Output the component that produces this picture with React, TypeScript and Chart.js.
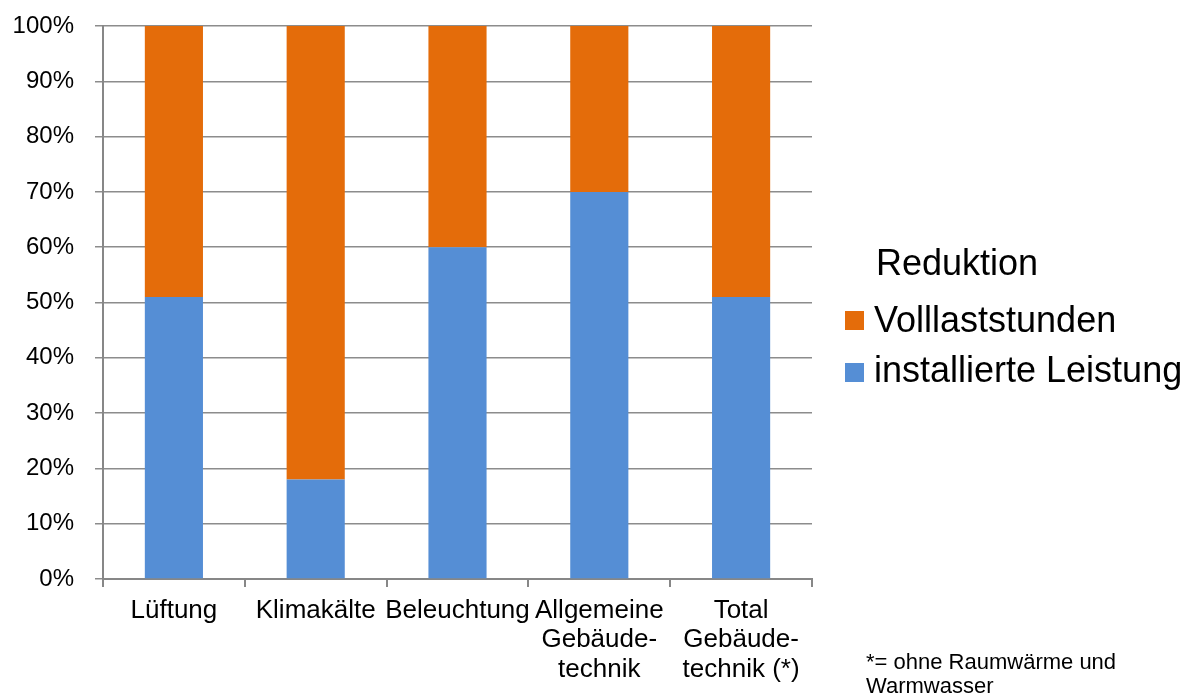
import { useEffect, useRef } from "react";
import { Chart, registerables } from "chart.js";

Chart.register(...registerables);

const categories: string[][] = [
  ["Lüftung"],
  ["Klimakälte"],
  ["Beleuchtung"],
  ["Allgemeine", "Gebäude-", "technik"],
  ["Total", "Gebäude-", "technik (*)"],
];
const installierteLeistung = [51, 18, 60, 70, 51];
const volllaststunden = [49, 82, 40, 30, 49];
const seriesNames = ["installierte Leistung", "Volllaststunden"];
const seriesColors = ["#558ED5", "#E46C0A"];
const legendTitle = "Reduktion";
const footnote = ["*= ohne Raumwärme und", "Warmwasser"];

const FONT = "'Liberation Sans', Arial, sans-serif";
const AXIS = "#878787";

const extrasPlugin = {
  id: "extras",
  afterDraw(chart: any) {
    const ctx = chart.ctx as CanvasRenderingContext2D;
    ctx.save();
    ctx.fillStyle = "#000";
    ctx.textAlign = "left";
    ctx.textBaseline = "alphabetic";
    ctx.font = `36px ${FONT}`;
    ctx.fillText(legendTitle, 876, 275);
    const ds = chart.data.datasets;
    const order = [1, 0];
    const rows = [
      { sq: 311, base: 332 },
      { sq: 363, base: 382 },
    ];
    order.forEach((di, i) => {
      const d = ds[di];
      ctx.fillStyle = d.backgroundColor;
      ctx.fillRect(845, rows[i].sq, 19, 19);
      ctx.fillStyle = "#000";
      ctx.fillText(d.label, 874, rows[i].base);
    });
    ctx.font = `22px ${FONT}`;
    ctx.fillText(footnote[0], 866, 669);
    ctx.fillText(footnote[1], 866, 693);
    ctx.restore();
  },
};

export default function App() {
  const ref = useRef<HTMLCanvasElement | null>(null);
  useEffect(() => {
    if (!ref.current) return;
    const chart = new Chart(ref.current, {
      type: "bar",
      data: {
        labels: categories,
        datasets: [
          {
            label: seriesNames[0],
            data: installierteLeistung,
            backgroundColor: seriesColors[0],
            borderWidth: 0,
          },
          {
            label: seriesNames[1],
            data: volllaststunden,
            backgroundColor: seriesColors[1],
            borderWidth: 0,
          },
        ],
      },
      options: {
        responsive: false,
        animation: false,
        layout: { padding: { left: 0, right: 386, top: 26, bottom: 0 } },
        datasets: { bar: { categoryPercentage: 1, barPercentage: 0.41 } },
        plugins: { legend: { display: false }, tooltip: { enabled: false } },
        scales: {
          x: {
            stacked: true,
            afterFit(scale: any) {
              scale.height = 118;
              scale.paddingLeft = 0;
              scale.paddingRight = 0;
            },
            grid: {
              drawOnChartArea: false,
              drawTicks: true,
              tickLength: 8,
              color: AXIS,
              lineWidth: 2,
              offset: true,
            },
            border: { color: AXIS, width: 2 },
            ticks: {
              color: "#000",
              font: { family: FONT, size: 26, lineHeight: 1.13 },
              padding: 9,
              maxRotation: 0,
              minRotation: 0,
              autoSkip: false,
            },
          },
          y: {
            stacked: true,
            min: 0,
            max: 100,
            afterFit(scale: any) {
              scale.width = 103;
              scale.paddingTop = 0;
              scale.paddingBottom = 0;
            },
            grid: {
              color: "#8c8c8c",
              lineWidth: 1.5,
              tickLength: 8,
              drawTicks: true,
            },
            border: { color: AXIS, width: 2 },
            ticks: {
              stepSize: 10,
              color: "#000",
              font: { family: FONT, size: 24 },
              padding: 21,
              callback: (v: any) => `${v}%`,
            },
          },
        },
      },
      plugins: [extrasPlugin],
    });
    return () => chart.destroy();
  }, []);
  return (
    <canvas
      ref={ref}
      width={1198}
      height={697}
      style={{ position: "absolute", left: 0, top: 0, display: "block" }}
    />
  );
}
